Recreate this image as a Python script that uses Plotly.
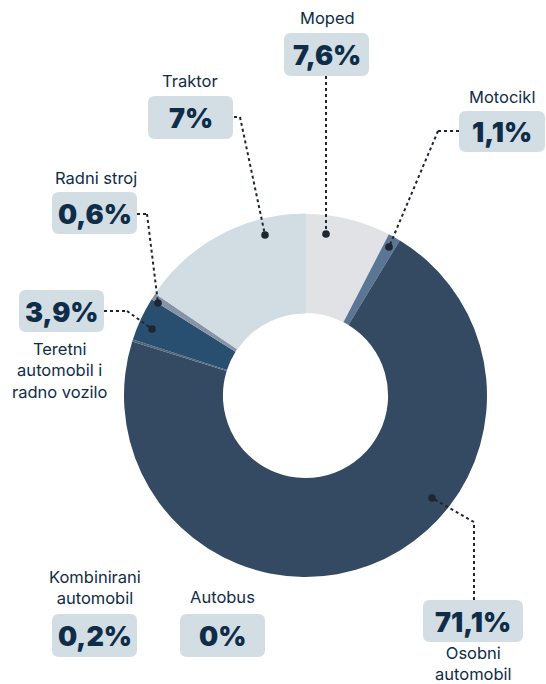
import plotly.graph_objects as go

# Share of registered vehicles by category (percent), clockwise from 12 o'clock
categories = ["Moped", "Motocikl", "Osobni automobil", "Autobus",
              "Kombinirani automobil", "Teretni automobil i radno vozilo",
              "Radni stroj", "Traktor"]
shares = [7.6, 1.1, 71.1, 0.0, 0.2, 3.9, 0.6, 7.0]
slice_colors = ["#e1e2e5", "#5b7594", "#344a62", "#344a62",
                "#51667e", "#284f6f", "#8794a6", "#d1dde3"]

# Unlisted remainder up to 100 %, drawn in the tractor colour next to it
remainder = round(100 - sum(shares), 1)
values = shares[:-1] + [remainder] + shares[-1:]
names = categories[:-1] + [""] + categories[-1:]
colors = slice_colors[:-1] + [slice_colors[-1]] + slice_colors[-1:]
edge_widths = [0] * (len(shares) - 1) + [1, 1]

W, H = 546, 684
NAVY = "#0f2d48"
BOX = "#d2dee4"
LINE = "#1e2630"
FONT = "Inter"
CAP_SIZE = 16.5
CAP_STEP = CAP_SIZE * 1.3


def px(x):
    return x / W


def py(y):
    return 1 - y / H


def fmt(v):
    return f"{v:g}".replace(".", ",") + "%"


def rounded_box(x0, y0, x1, y1, r=7):
    pts = (
        f"M {px(x0 + r)} {py(y0)} L {px(x1 - r)} {py(y0)} "
        f"Q {px(x1)} {py(y0)} {px(x1)} {py(y0 + r)} "
        f"L {px(x1)} {py(y1 - r)} Q {px(x1)} {py(y1)} {px(x1 - r)} {py(y1)} "
        f"L {px(x0 + r)} {py(y1)} Q {px(x0)} {py(y1)} {px(x0)} {py(y1 - r)} "
        f"L {px(x0)} {py(y0 + r)} Q {px(x0)} {py(y0)} {px(x0 + r)} {py(y0)} Z"
    )
    return dict(type="path", xref="paper", yref="paper", path=pts,
                fillcolor=BOX, line=dict(width=0), layer="below")


fig = go.Figure(go.Pie(
    labels=names, values=values, sort=False, direction="clockwise",
    rotation=0, hole=0.455, textinfo="none", hoverinfo="label+value",
    marker=dict(colors=colors, line=dict(color=colors, width=edge_widths)),
    domain=dict(x=[px(124), px(487)], y=[py(577), py(214)]),
    showlegend=False,
))

# label layout: box (x0, y0, x1, y1), caption lines, first caption line centre,
# leader path ending at a dot on the ring
labels = {
    "Moped": dict(box=(284, 33, 369, 76), cap=["Moped"], cap_xy=(327, 18),
                  path=[(326, 76), (326, 234)]),
    "Motocikl": dict(box=(459, 111, 545, 152), cap=["Motocikl"], cap_xy=(502, 97),
                     path=[(459, 131), (438, 131), (389, 247)]),
    "Osobni automobil": dict(box=(423, 600, 523, 642), cap=["Osobni", "automobil"],
                             cap_xy=(473, 653),
                             path=[(474, 600), (474, 522), (432, 498)]),
    "Autobus": dict(box=(180, 614, 265, 657), cap=["Autobus"], cap_xy=(222, 597),
                    path=None),
    "Kombinirani automobil": dict(box=(52, 614, 137, 657),
                                  cap=["Kombinirani", "automobil"], cap_xy=(95, 577),
                                  path=None),
    "Teretni automobil i radno vozilo": dict(
        box=(19, 290, 104, 332), cap=["Teretni", "automobil i", "radno vozilo"],
        cap_xy=(60, 349), path=[(104, 311), (127, 311), (152, 329)]),
    "Radni stroj": dict(box=(52, 192, 137, 234), cap=["Radni stroj"], cap_xy=(96, 178),
                        path=[(137, 214), (147, 214), (158, 303)]),
    "Traktor": dict(box=(148, 96, 233, 139), cap=["Traktor"], cap_xy=(190, 81),
                    path=[(234, 117), (240, 117), (265, 235)]),
}

shapes = []
annotations = []
for cat, val in zip(categories, shares):
    spec = labels[cat]
    x0, y0, x1, y1 = spec["box"]
    shapes.append(rounded_box(x0, y0, x1, y1))
    annotations.append(dict(
        x=px((x0 + x1) / 2), y=py((y0 + y1) / 2 + 1), xref="paper", yref="paper",
        text=fmt(val), showarrow=False, xanchor="center", yanchor="middle",
        font=dict(family=FONT, size=27, color=NAVY, weight=900),
    ))
    cx, cy = spec["cap_xy"]
    n = len(spec["cap"])
    annotations.append(dict(
        x=px(cx), y=py(cy + (n - 1) * CAP_STEP / 2), xref="paper", yref="paper",
        text="<br>".join(spec["cap"]), showarrow=False,
        xanchor="center", yanchor="middle", align="center",
        font=dict(family=FONT, size=CAP_SIZE, color=NAVY),
    ))
    if spec["path"]:
        pts = spec["path"]
        for (ax, ay), (bx, by) in zip(pts[:-1], pts[1:]):
            shapes.append(dict(type="line", xref="paper", yref="paper",
                               x0=px(ax), y0=py(ay), x1=px(bx), y1=py(by),
                               line=dict(color=LINE, width=2, dash="dot")))
        dx, dy = pts[-1]
        shapes.append(dict(type="circle", xref="paper", yref="paper",
                           x0=px(dx - 3.8), x1=px(dx + 3.8),
                           y0=py(dy + 3.8), y1=py(dy - 3.8),
                           fillcolor=LINE, line=dict(width=0)))

fig.update_layout(
    width=W, height=H, margin=dict(l=0, r=0, t=0, b=0),
    paper_bgcolor="white", plot_bgcolor="white",
    shapes=shapes, annotations=annotations,
)

fig.write_html("out.html")
